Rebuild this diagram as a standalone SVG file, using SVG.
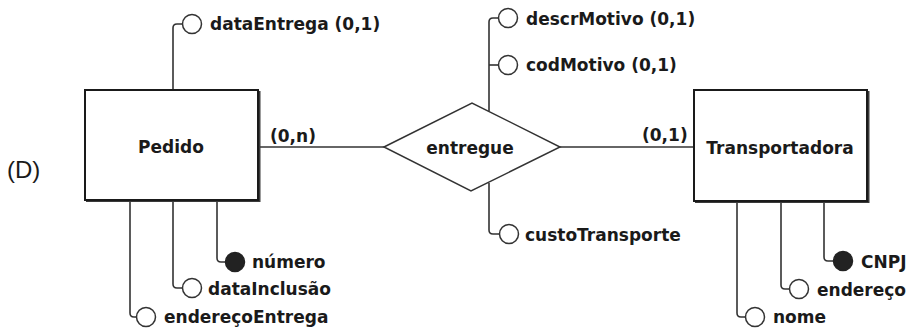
<svg xmlns="http://www.w3.org/2000/svg" width="911" height="333" viewBox="0 0 911 333">
<style>
.bg{fill:#fff}
.ent{fill:#fff;stroke:#1a1a1a;stroke-width:2}
.shadow{fill:none;stroke:#3a3a3a;stroke-width:2}
.rel{fill:#fff;stroke:#333;stroke-width:1.5}
.lbl{font-family:"DejaVu Sans",Verdana,sans-serif;font-weight:bold;font-size:17px;fill:#1a1a1a}
.cap{font-family:"Liberation Sans",Arial,sans-serif;font-size:24px;fill:#1a1a1a}
.c{fill:none;stroke:#333;stroke-width:1.6}
.att{fill:#fff;stroke:#333;stroke-width:1.5}
.key{fill:#222;stroke:#222;stroke-width:1.5}
</style>
<rect class="bg" x="0" y="0" width="911" height="333"/>
<text class="cap" x="7" y="178">(D)</text>

<g id="connectors">
  <line class="c" x1="258" y1="147" x2="384" y2="147"/>
  <text class="lbl" x="270" y="142">(0,n)</text>
  <line class="c" x1="560" y1="147" x2="694" y2="147"/>
  <text class="lbl" x="642" y="141">(0,1)</text>
  <path class="c" d="M173,90 V28 Q173,24 177,24 H182.5"/>
  <path class="c" d="M489,111 V22 Q489,18 493,18 H498.5"/>
  <path class="c" d="M489,65 H498.5"/>
  <path class="c" d="M489,183 V230 Q489,234 493,234 H499.5"/>
  <path class="c" d="M217,200 V258 Q217,262 221,262 H225.5"/>
  <path class="c" d="M173,200 V284 Q173,288 177,288 H182.5"/>
  <path class="c" d="M130,200 V313 Q130,317 134,317 H136.5"/>
  <path class="c" d="M824,201 V257 Q824,261 828,261 H833.5"/>
  <path class="c" d="M781,201 V285 Q781,289 785,289 H789.5"/>
  <path class="c" d="M737,201 V313 Q737,317 741,317 H745.5"/>
</g>

<g id="pedido">
  <polyline class="shadow" points="259.5,91 259.5,201 86,201"/>
  <rect class="ent" x="85" y="90" width="173" height="110"/>
  <text class="lbl" x="171" y="153" text-anchor="middle">Pedido</text>
</g>

<g id="transportadora">
  <polyline class="shadow" points="868.5,91 868.5,202 695,202"/>
  <rect class="ent" x="694" y="90" width="173" height="111"/>
  <text class="lbl" x="780" y="154" text-anchor="middle">Transportadora</text>
</g>

<g id="entregue">
  <polygon class="rel" points="384,147 472,103 560,147 471,191"/>
  <text class="lbl" x="470" y="154" text-anchor="middle">entregue</text>
</g>

<g id="attr-dataEntrega">
  <circle class="att" cx="192" cy="24" r="9.5"/>
  <text class="lbl" x="210" y="30">dataEntrega (0,1)</text>
</g>
<g id="attr-descrMotivo">
  <circle class="att" cx="508" cy="18" r="9.5"/>
  <text class="lbl" x="526" y="25">descrMotivo (0,1)</text>
</g>
<g id="attr-codMotivo">
  <circle class="att" cx="508" cy="65" r="9.5"/>
  <text class="lbl" x="526" y="71">codMotivo (0,1)</text>
</g>
<g id="attr-custoTransporte">
  <circle class="att" cx="509" cy="234" r="9.5"/>
  <text class="lbl" x="525" y="241">custoTransporte</text>
</g>
<g id="attr-numero">
  <circle class="key" cx="235" cy="262" r="9.5"/>
  <text class="lbl" x="252" y="268">número</text>
</g>
<g id="attr-dataInclusao">
  <circle class="att" cx="192" cy="288" r="9.5"/>
  <text class="lbl" x="208" y="295">dataInclusão</text>
</g>
<g id="attr-enderecoEntrega">
  <circle class="att" cx="146" cy="317" r="9.5"/>
  <text class="lbl" x="164" y="323">endereçoEntrega</text>
</g>
<g id="attr-CNPJ">
  <circle class="key" cx="843" cy="261" r="9.5"/>
  <text class="lbl" x="861" y="268">CNPJ</text>
</g>
<g id="attr-endereco">
  <circle class="att" cx="799" cy="289" r="9.5"/>
  <text class="lbl" x="817" y="296">endereço</text>
</g>
<g id="attr-nome">
  <circle class="att" cx="755" cy="317" r="9.5"/>
  <text class="lbl" x="773" y="323">nome</text>
</g>
</svg>
